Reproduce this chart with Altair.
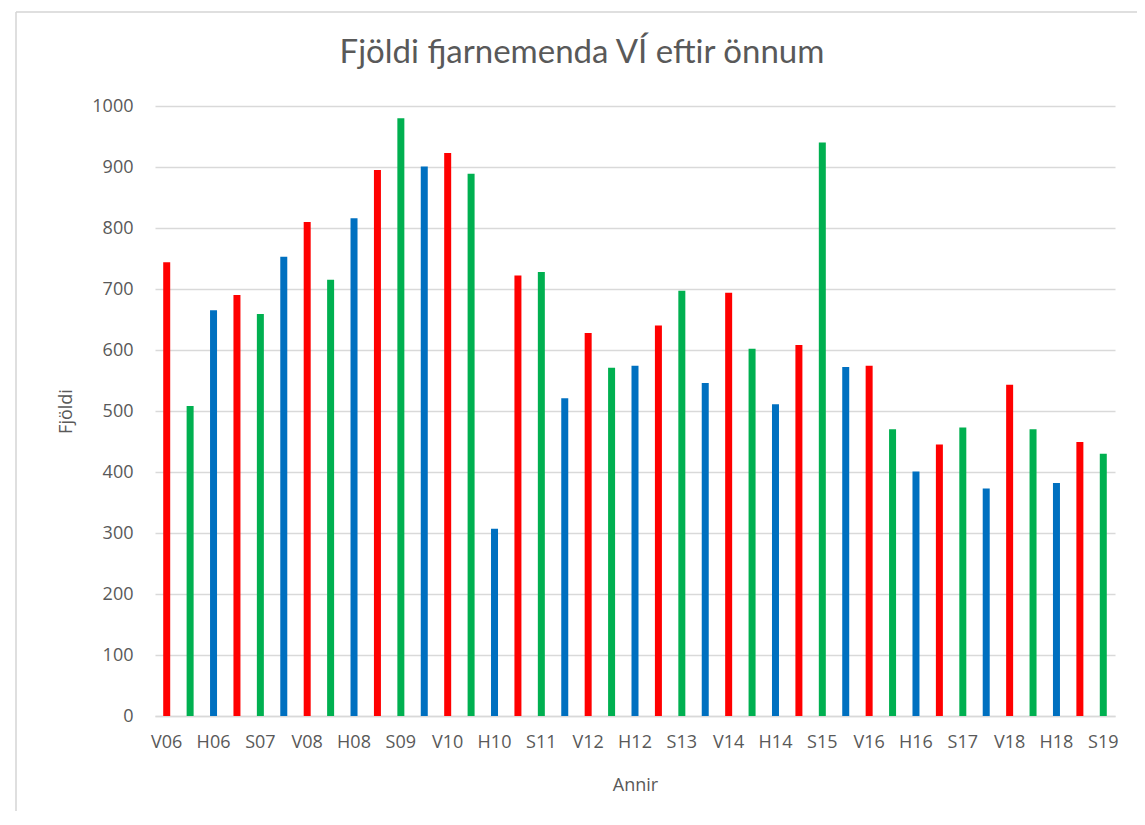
import altair as alt
import pandas as pd

categories = [
    "V06", "S06", "H06", "V07", "S07", "H07", "V08", "S08", "H08",
    "V09", "S09", "H09", "V10", "S10", "H10", "V11", "S11", "H11",
    "V12", "S12", "H12", "V13", "S13", "H13", "V14", "S14", "H14",
    "V15", "S15", "H15", "V16", "S16", "H16", "V17", "S17", "H17",
    "V18", "S18", "H18", "V19", "S19",
]
values = [
    744, 508, 665, 690, 659, 753, 810, 715, 816,
    895, 980, 901, 923, 889, 307, 722, 728, 521,
    628, 571, 574, 640, 697, 546, 694, 602, 511,
    608, 940, 572, 574, 470, 401, 445, 473, 373,
    543, 470, 382, 449, 430,
]
term_order = ["V", "S", "H"]
term_colors = ["#FF0000", "#00B050", "#0070C0"]
label_values = categories[::2]
y_ticks = [0, 100, 200, 300, 400, 500, 600, 700, 800, 900, 1000]

df = pd.DataFrame({
    "Önn": categories,
    "Fjöldi": values,
    "Tegund": [c[0] for c in categories],
})

FONT = "Open Sans"
GREY = "#595959"

bars = alt.Chart(df).mark_bar(size=7).encode(
    x=alt.X(
        "Önn:N",
        sort=categories,
        scale=alt.Scale(paddingInner=0, paddingOuter=0),
        axis=alt.Axis(
            title="Annir",
            values=label_values,
            labelAngle=0,
            ticks=False,
            grid=False,
            domainColor="#d9d9d9",
            domainWidth=1.5,
            labelPadding=17,
            titlePadding=25,
        ),
    ),
    y=alt.Y(
        "Fjöldi:Q",
        scale=alt.Scale(domain=[0, 1000], nice=False),
        axis=alt.Axis(
            title="Fjöldi",
            values=y_ticks,
            format="d",
            ticks=False,
            domain=False,
            gridColor="#d9d9d9",
            gridWidth=1.5,
            labelPadding=22,
            titlePadding=16,
        ),
    ),
    color=alt.Color(
        "Tegund:N",
        scale=alt.Scale(domain=term_order, range=term_colors),
        legend=None,
    ),
)

frame_left = alt.Chart(alt.Data(values=[{}])).mark_rule(color="#d4d4d4", strokeWidth=1.5).encode(
    x=alt.value(-139), y=alt.value(-94), y2=alt.value(720)
)
frame_top = alt.Chart(alt.Data(values=[{}])).mark_rule(color="#d4d4d4", strokeWidth=1.5).encode(
    x=alt.value(-139), x2=alt.value(982), y=alt.value(-94)
)

chart = alt.layer(frame_left, frame_top, bars).properties(
    width=960,
    height=610,
    autosize=alt.AutoSizeParams(type="none"),
    padding={"left": 147, "top": 98, "right": 22, "bottom": 95},
    title=alt.TitleParams(
        "Fjöldi fjarnemenda VÍ eftir önnum",
        font="Lato",
        fontSize=33,
        fontWeight="normal",
        color=GREY,
        anchor="middle",
        baseline="alphabetic",
        dx=-53,
        dy=85,
        offset=0,
    ),
).configure_view(
    stroke=None
).configure_axis(
    labelFont=FONT,
    labelFontSize=18,
    labelColor=GREY,
    titleFont=FONT,
    titleFontSize=18,
    titleFontWeight="normal",
    titleColor=GREY,
)

chart.save("out.html", embed_options={"renderer": "svg", "actions": False})
